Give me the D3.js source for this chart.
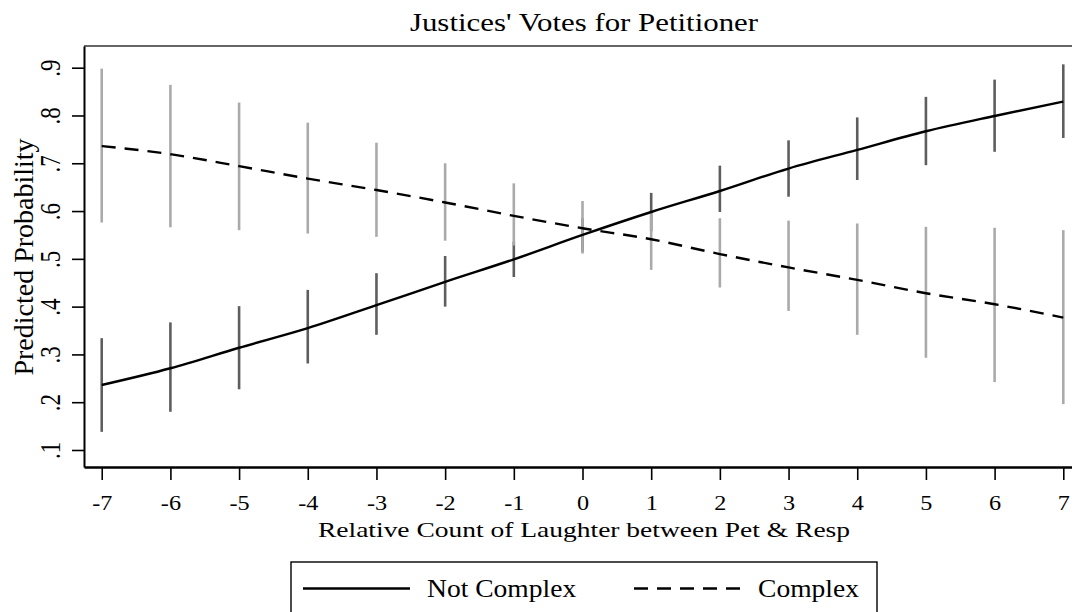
<!DOCTYPE html>
<html lang="en">
<head>
<meta charset="UTF-8">
<title>Justices' Votes for Petitioner</title>
<script src="https://d3js.org/d3.v7.min.js"></script>
<style>
  body { margin: 0; background: #fff; }
  svg { display: block; }
  text { font-family: "Liberation Serif", "Times New Roman", serif; fill: #000; }
</style>
</head>
<body>
<div id="chart"></div>
<script>
// relative count of laughter (x values)
const xVals = [-7, -6, -5, -4, -3, -2, -1, 0, 1, 2, 3, 4, 5, 6, 7];

// Not Complex: predicted probability and CI
const notComplex   = [0.236, 0.271, 0.314, 0.355, 0.403, 0.452, 0.499, 0.550, 0.598, 0.642, 0.689, 0.728, 0.767, 0.799, 0.829];
const notComplexLo = [0.138, 0.180, 0.227, 0.281, 0.341, 0.400, 0.462, 0.515, 0.558, 0.598, 0.630, 0.665, 0.696, 0.724, 0.753];
const notComplexHi = [0.334, 0.367, 0.401, 0.435, 0.470, 0.506, 0.536, 0.585, 0.638, 0.695, 0.748, 0.796, 0.839, 0.875, 0.907];

// Complex: predicted probability and CI
const complex   = [0.736, 0.719, 0.694, 0.668, 0.644, 0.618, 0.590, 0.564, 0.541, 0.510, 0.482, 0.456, 0.428, 0.405, 0.377];
const complexLo = [0.576, 0.566, 0.560, 0.553, 0.546, 0.538, 0.528, 0.511, 0.477, 0.440, 0.391, 0.341, 0.293, 0.242, 0.196];
const complexHi = [0.898, 0.864, 0.827, 0.785, 0.743, 0.700, 0.658, 0.621, 0.600, 0.585, 0.580, 0.574, 0.567, 0.565, 0.560];

const xTicks = [-7, -6, -5, -4, -3, -2, -1, 0, 1, 2, 3, 4, 5, 6, 7];
const yTicks = [0.1, 0.2, 0.3, 0.4, 0.5, 0.6, 0.7, 0.8, 0.9];
const seriesNames = ["Not Complex", "Complex"];

const width = 1072, height = 612;
const plotLeft = 84, plotTop = 46, plotBottom = 467, plotRight = 1083;

const svg = d3.select("#chart").append("svg")
    .attr("width", width)
    .attr("height", height);

const x = d3.scaleLinear().domain([-7.258, 7.287]).range([plotLeft, plotRight]);
const y = d3.scaleLinear().domain([0.0644, 0.9454]).range([plotBottom, plotTop]);

// frame top line
svg.append("line")
    .attr("x1", plotLeft).attr("x2", plotRight)
    .attr("y1", plotTop).attr("y2", plotTop)
    .attr("stroke", "#333").attr("stroke-width", 1.5);

// y axis
const yAxis = svg.append("g")
    .attr("transform", `translate(${plotLeft},0)`)
    .call(d3.axisLeft(y).tickValues(yTicks).tickSize(12).tickSizeOuter(0)
        .tickFormat(d => d.toFixed(1).replace(/^0/, "")));
yAxis.select(".domain").attr("stroke", "#000").attr("stroke-width", 2);
yAxis.selectAll(".tick line").attr("stroke", "#000").attr("stroke-width", 1.6);
yAxis.selectAll(".tick text")
    .attr("x", 0).attr("dy", 0)
    .attr("text-anchor", "middle")
    .attr("font-size", 23)
    .attr("font-family", "Liberation Serif")
    .attr("transform", "translate(-24,0) rotate(-90) scale(1,1.3)");

// x axis (plain hyphen for negatives, like the original)
const xAxis = svg.append("g")
    .attr("transform", `translate(0,${plotBottom})`)
    .call(d3.axisBottom(x).tickValues(xTicks).tickSize(13).tickSizeOuter(0)
        .tickFormat(d => String(d)));
xAxis.select(".domain").attr("stroke", "#000").attr("stroke-width", 2.4);
xAxis.selectAll(".tick line").attr("stroke", "#000").attr("stroke-width", 1.6);
xAxis.selectAll(".tick text")
    .attr("y", 43).attr("dy", 0)
    .attr("font-size", 22)
    .attr("font-family", "Liberation Serif")
    .attr("transform", "scale(1.1,1)");

// axis titles and chart title
svg.append("text")
    .attr("transform", "translate(584,31) scale(1.235,1)")
    .attr("text-anchor", "middle")
    .attr("font-size", 25)
    .text("Justices' Votes for Petitioner");

svg.append("text")
    .attr("transform", "translate(584,537) scale(1.25,1)")
    .attr("text-anchor", "middle")
    .attr("font-size", 22)
    .text("Relative Count of Laughter between Pet & Resp");

svg.append("text")
    .attr("transform", "translate(33,257) rotate(-90)")
    .attr("text-anchor", "middle")
    .attr("font-size", 28)
    .text("Predicted Probability");

// confidence interval spikes (dark for Not Complex, drawn first; light for Complex on top)
svg.append("g").selectAll("line")
    .data(xVals)
    .join("line")
    .attr("x1", d => x(d)).attr("x2", d => x(d))
    .attr("y1", (d, i) => y(notComplexLo[i]))
    .attr("y2", (d, i) => y(notComplexHi[i]))
    .attr("stroke", "#5e5e5e").attr("stroke-width", 2.6);

svg.append("g").selectAll("line")
    .data(xVals)
    .join("line")
    .attr("x1", d => x(d)).attr("x2", d => x(d))
    .attr("y1", (d, i) => y(complexLo[i]))
    .attr("y2", (d, i) => y(complexHi[i]))
    .attr("stroke", "#aaaaaa").attr("stroke-width", 2.6);

// prediction lines
const line = d3.line()
    .x(d => x(d[0]))
    .y(d => y(d[1]))
    .curve(d3.curveMonotoneX);

svg.append("path")
    .datum(xVals.map((d, i) => [d, notComplex[i]]))
    .attr("d", line)
    .attr("fill", "none")
    .attr("stroke", "#000").attr("stroke-width", 2.4);

svg.append("path")
    .datum(xVals.map((d, i) => [d, complex[i]]))
    .attr("d", line)
    .attr("fill", "none")
    .attr("stroke", "#000").attr("stroke-width", 2.4)
    .attr("stroke-dasharray", "14,9");

// legend
const legend = svg.append("g");
legend.append("rect")
    .attr("x", 291).attr("y", 562)
    .attr("width", 586).attr("height", 60)
    .attr("fill", "#fff").attr("stroke", "#000").attr("stroke-width", 1.4);

const legendItems = [
    { name: seriesNames[0], x0: 303, dash: null },
    { name: seriesNames[1], x0: 634, dash: "14,9" }
];
legendItems.forEach(it => {
    legend.append("line")
        .attr("x1", it.x0).attr("x2", it.x0 + 107)
        .attr("y1", 588.5).attr("y2", 588.5)
        .attr("stroke", "#000").attr("stroke-width", 2.4)
        .attr("stroke-dasharray", it.dash);
    legend.append("text")
        .attr("transform", `translate(${it.x0 + 124},597) scale(1.06,1)`)
        .attr("font-size", 26)
        .text(it.name);
});
</script>
</body>
</html>
